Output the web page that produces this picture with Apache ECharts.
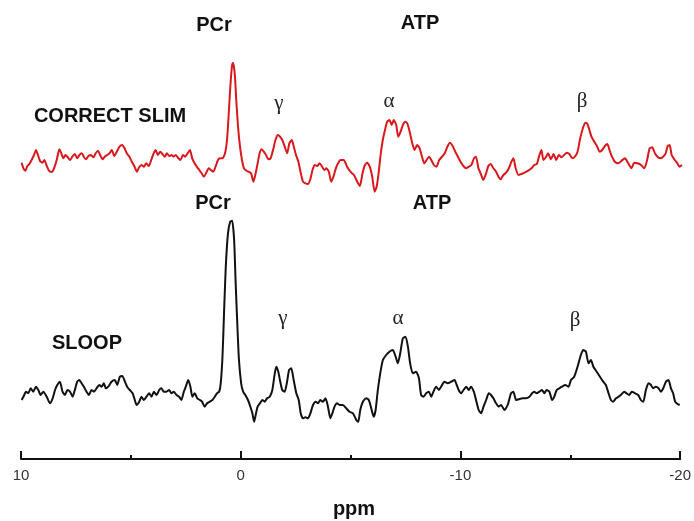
<!DOCTYPE html>
<html>
<head>
<meta charset="utf-8">
<title>31P spectra: CORRECT SLIM vs SLOOP</title>
<script src="https://cdn.jsdelivr.net/npm/echarts@6/dist/echarts.min.js"></script>
<style>
  html, body { margin: 0; padding: 0; background: #fff; }
  #chart { width: 694px; height: 521px; }
</style>
</head>
<body>
<div id="chart"></div>
<script>
// Chemical shift axis (ppm) and its labelled ticks
const ppmTicks = [10, 0, -10, -20];

// CORRECT SLIM spectrum: [ppm, signal]
const slimSpectrum = [
  [9.97,-5.7],[9.89,-11.3],[9.80,-13.7],[9.71,-9.0],[9.62,-7.0],[9.52,-3.0],[9.41,2.0],[9.32,7.0],
  [9.23,2.0],[9.14,-3.7],[9.03,-5.7],[8.94,-3.0],[8.83,-9.0],[8.73,-13.7],[8.61,-15.0],[8.50,-11.3],
  [8.38,-3.0],[8.26,7.7],[8.17,3.7],[8.08,-1.3],[7.98,2.0],[7.88,-0.3],[7.77,-3.0],[7.67,0.3],
  [7.56,3.0],[7.45,-1.3],[7.35,2.0],[7.24,3.7],[7.14,-0.3],[7.05,-2.3],[6.94,1.0],[6.83,2.0],
  [6.71,-0.3],[6.61,3.7],[6.50,6.3],[6.41,2.0],[6.30,-2.3],[6.20,0.3],[6.09,2.0],[5.98,3.7],
  [5.88,7.0],[5.77,1.0],[5.65,5.3],[5.53,10.3],[5.41,12.0],[5.30,8.7],[5.20,3.7],[5.08,0.3],
  [4.97,-4.7],[4.86,-9.0],[4.74,-14.7],[4.64,-10.3],[4.53,-8.0],[4.42,-9.7],[4.32,-6.3],[4.20,-9.0],
  [4.09,-3.0],[3.98,3.7],[3.89,7.0],[3.79,2.0],[3.68,5.3],[3.58,3.0],[3.47,0.3],[3.38,3.7],
  [3.27,1.0],[3.17,2.0],[3.08,0.3],[2.97,2.0],[2.86,-1.3],[2.76,-3.0],[2.65,2.0],[2.55,0.3],
  [2.44,3.7],[2.33,7.0],[2.23,-1.3],[2.12,-6.3],[2.02,-9.7],[1.91,-13.0],[1.80,-16.3],[1.70,-19.7],
  [1.59,-15.7],[1.48,-11.3],[1.38,-13.0],[1.27,-14.7],[1.17,-9.7],[1.06,-3.0],[0.95,-1.3],[0.85,-1.3],
  [0.74,3.7],[0.65,17.0],[0.58,40.3],[0.50,70.3],[0.42,92.0],[0.38,94.3],[0.30,83.7],[0.23,57.0],
  [0.15,30.3],[0.06,10.3],[-0.03,-3.0],[-0.12,-11.3],[-0.23,-13.7],[-0.33,-14.7],[-0.44,-16.3],[-0.55,-24.7],
  [-0.65,-16.3],[-0.74,-6.3],[-0.83,3.7],[-0.92,7.7],[-1.02,5.3],[-1.12,2.0],[-1.23,-2.3],[-1.33,-1.3],
  [-1.44,7.0],[-1.55,17.0],[-1.65,22.0],[-1.76,20.3],[-1.86,17.0],[-1.97,10.3],[-2.08,3.7],[-2.18,13.7],
  [-2.29,17.0],[-2.38,10.3],[-2.48,2.0],[-2.59,-4.7],[-2.70,-16.3],[-2.80,-24.7],[-2.91,-26.3],[-3.02,-27.0],
  [-3.12,-23.0],[-3.23,-13.0],[-3.33,-8.0],[-3.44,-9.0],[-3.55,-6.3],[-3.65,-9.0],[-3.76,-13.0],[-3.86,-11.3],
  [-3.97,-14.7],[-4.08,-24.7],[-4.18,-19.7],[-4.29,-11.3],[-4.39,-6.3],[-4.50,-3.0],[-4.65,-3.0],[-4.80,-9.7],
  [-4.95,-14.7],[-5.11,-18.0],[-5.26,-24.7],[-5.38,-29.0],[-5.50,-16.3],[-5.61,-8.0],[-5.71,-5.7],[-5.83,-9.7],
  [-5.94,-19.7],[-6.05,-34.7],[-6.14,-29.7],[-6.23,-16.3],[-6.32,2.0],[-6.42,17.0],[-6.52,27.0],[-6.62,35.3],
  [-6.73,37.0],[-6.82,32.0],[-6.92,37.0],[-7.03,32.0],[-7.12,20.3],[-7.23,25.3],[-7.33,32.0],[-7.44,35.3],
  [-7.53,33.7],[-7.64,25.3],[-7.74,15.3],[-7.86,7.0],[-7.98,12.0],[-8.09,8.7],[-8.20,0.3],[-8.30,-6.3],
  [-8.41,-3.0],[-8.52,0.3],[-8.62,-3.0],[-8.74,-8.0],[-8.86,-9.7],[-8.98,-3.0],[-9.11,0.3],[-9.23,3.7],
  [-9.35,10.3],[-9.47,14.3],[-9.59,11.0],[-9.71,5.3],[-9.83,0.3],[-9.95,-4.7],[-10.08,-9.0],[-10.20,-11.3],
  [-10.32,-9.7],[-10.44,-8.0],[-10.56,-1.3],[-10.65,0.3],[-10.76,-11.3],[-10.86,-16.3],[-10.98,-23.0],[-11.11,-16.3],
  [-11.21,-9.0],[-11.32,-7.0],[-11.44,-11.3],[-11.56,-14.7],[-11.67,-19.7],[-11.77,-22.3],[-11.89,-18.0],[-12.02,-15.7],
  [-12.14,-11.3],[-12.26,-4.7],[-12.35,-1.3],[-12.45,-11.3],[-12.58,-18.0],[-12.71,-17.0],[-12.86,-15.7],[-13.02,-13.7],
  [-13.17,-11.3],[-13.29,-8.0],[-13.41,-7.0],[-13.53,2.0],[-13.62,7.0],[-13.71,-3.0],[-13.82,-0.3],[-13.92,3.7],
  [-14.05,-2.3],[-14.17,3.0],[-14.29,-3.0],[-14.41,2.0],[-14.53,-0.3],[-14.65,2.0],[-14.77,4.3],[-14.89,3.0],
  [-15.02,-1.3],[-15.14,0.3],[-15.26,5.3],[-15.38,18.7],[-15.50,28.7],[-15.61,34.3],[-15.71,33.0],[-15.80,27.0],
  [-15.89,20.3],[-16.02,15.3],[-16.14,11.0],[-16.26,5.3],[-16.38,7.0],[-16.50,11.0],[-16.61,13.0],[-16.71,7.0],
  [-16.82,0.3],[-16.95,-4.7],[-17.11,-6.3],[-17.26,-3.7],[-17.41,-1.3],[-17.56,-6.3],[-17.71,-11.3],[-17.83,-5.7],
  [-17.98,-6.3],[-18.14,-8.0],[-18.29,-11.3],[-18.41,-3.7],[-18.53,8.7],[-18.65,9.7],[-18.77,3.7],[-18.89,0.3],
  [-19.02,-1.3],[-19.14,0.3],[-19.26,3.7],[-19.35,11.0],[-19.44,12.0],[-19.53,2.0],[-19.65,-2.3],[-19.77,-5.7],
  [-19.89,-9.7],[-20.00,-8.0]
];

// SLOOP spectrum: [ppm, signal]
const sloopSpectrum = [
  [9.97,-5.0],[9.89,-1.7],[9.77,3.3],[9.67,1.7],[9.56,6.7],[9.44,3.3],[9.32,8.3],[9.21,5.0],
  [9.11,0.0],[8.98,3.3],[8.83,-1.7],[8.68,-8.3],[8.56,-3.3],[8.45,5.0],[8.35,10.0],[8.23,13.3],
  [8.11,3.3],[8.00,0.0],[7.89,5.0],[7.77,3.3],[7.65,-1.7],[7.55,5.0],[7.44,13.3],[7.35,15.0],
  [7.24,11.7],[7.14,8.3],[7.02,3.3],[6.91,0.0],[6.79,5.0],[6.68,3.3],[6.56,6.7],[6.44,10.0],
  [6.33,8.3],[6.23,11.7],[6.14,6.7],[6.03,8.3],[5.88,13.3],[5.73,15.0],[5.62,10.0],[5.50,18.3],
  [5.39,19.0],[5.27,13.3],[5.17,8.3],[5.05,5.0],[4.92,1.7],[4.82,-5.0],[4.74,-10.0],[4.62,-6.7],
  [4.52,-1.7],[4.41,-5.0],[4.29,-1.7],[4.17,1.7],[4.06,-1.7],[3.95,3.3],[3.83,0.0],[3.71,5.0],
  [3.61,6.7],[3.50,3.3],[3.38,3.3],[3.26,5.0],[3.15,1.7],[3.05,3.3],[2.92,0.0],[2.80,-1.7],
  [2.70,-5.0],[2.59,3.3],[2.50,8.3],[2.39,15.0],[2.29,8.3],[2.20,-1.7],[2.09,1.7],[1.98,-3.3],
  [1.86,-5.0],[1.76,-6.7],[1.64,-11.7],[1.53,-8.3],[1.41,-6.7],[1.29,-5.0],[1.18,-1.7],[1.08,1.7],
  [0.98,3.3],[0.91,11.7],[0.83,38.3],[0.76,81.7],[0.68,128.3],[0.58,161.7],[0.48,173.3],[0.39,174.3],
  [0.30,155.0],[0.23,111.7],[0.15,68.3],[0.08,35.0],[-0.02,11.7],[-0.11,3.3],[-0.21,0.0],[-0.33,-5.0],
  [-0.44,-11.7],[-0.53,-18.3],[-0.61,-26.7],[-0.68,-20.0],[-0.77,-11.7],[-0.88,-8.3],[-0.98,-5.0],[-1.09,-6.7],
  [-1.20,-3.3],[-1.32,-1.7],[-1.44,5.0],[-1.55,21.7],[-1.62,28.3],[-1.71,23.3],[-1.80,13.3],[-1.89,5.0],
  [-2.00,3.3],[-2.11,13.3],[-2.20,25.0],[-2.30,26.7],[-2.41,15.0],[-2.53,1.7],[-2.64,-5.0],[-2.73,-18.3],
  [-2.83,-23.3],[-2.95,-22.3],[-3.06,-23.3],[-3.17,-18.3],[-3.29,-10.0],[-3.41,-6.7],[-3.52,-8.3],[-3.62,-5.0],
  [-3.74,-6.7],[-3.86,-3.3],[-3.97,-11.7],[-4.08,-23.3],[-4.17,-18.3],[-4.27,-11.7],[-4.38,-8.3],[-4.50,-10.0],
  [-4.65,-10.0],[-4.80,-13.3],[-4.95,-16.7],[-5.11,-18.3],[-5.26,-25.0],[-5.35,-26.7],[-5.44,-15.0],[-5.56,-6.7],
  [-5.71,-3.3],[-5.83,-5.0],[-5.94,-13.3],[-6.05,-21.7],[-6.14,-15.0],[-6.24,5.0],[-6.35,21.7],[-6.47,35.0],
  [-6.62,40.0],[-6.77,43.3],[-6.92,45.0],[-7.05,38.3],[-7.15,31.7],[-7.26,41.7],[-7.38,56.7],[-7.50,58.3],
  [-7.61,48.3],[-7.71,31.7],[-7.83,21.7],[-7.98,23.3],[-8.11,16.7],[-8.21,0.0],[-8.32,-1.7],[-8.44,1.7],
  [-8.56,3.3],[-8.67,-1.7],[-8.77,3.3],[-8.89,8.3],[-9.02,5.0],[-9.12,8.3],[-9.27,13.3],[-9.42,11.7],
  [-9.58,13.3],[-9.73,15.0],[-9.83,10.0],[-9.92,5.0],[-10.03,1.7],[-10.14,5.0],[-10.26,8.3],[-10.38,5.0],
  [-10.48,8.3],[-10.61,3.3],[-10.71,-5.0],[-10.83,-15.0],[-10.94,-18.3],[-11.05,-11.7],[-11.17,-5.0],[-11.29,1.7],
  [-11.39,0.0],[-11.50,-3.3],[-11.62,-8.3],[-11.74,-11.7],[-11.85,-10.0],[-12.00,-15.0],[-12.15,-10.0],[-12.30,1.7],
  [-12.41,3.3],[-12.53,-5.0],[-12.65,-4.3],[-12.83,-3.3],[-12.98,-3.3],[-13.14,-1.7],[-13.26,1.7],[-13.36,3.3],
  [-13.47,1.7],[-13.59,3.3],[-13.71,5.0],[-13.82,1.7],[-13.92,5.0],[-14.05,3.3],[-14.17,-5.0],[-14.27,-1.7],
  [-14.38,5.0],[-14.50,6.7],[-14.62,8.3],[-14.77,10.0],[-14.92,8.3],[-15.03,15.0],[-15.18,18.3],[-15.33,28.3],
  [-15.48,40.0],[-15.59,45.0],[-15.71,43.3],[-15.83,31.7],[-15.94,35.0],[-16.05,28.3],[-16.20,23.3],[-16.35,18.3],
  [-16.50,13.3],[-16.62,10.0],[-16.74,1.7],[-16.85,-5.0],[-16.95,-6.7],[-17.08,-3.3],[-17.20,-1.7],[-17.30,0.0],
  [-17.45,3.3],[-17.56,1.7],[-17.68,0.0],[-17.80,3.3],[-17.95,1.7],[-18.09,0.0],[-18.21,-5.0],[-18.32,-6.7],
  [-18.44,5.0],[-18.56,11.7],[-18.67,10.0],[-18.77,6.7],[-18.89,8.3],[-19.02,6.7],[-19.12,3.3],[-19.23,6.7],
  [-19.35,13.3],[-19.47,15.0],[-19.58,6.7],[-19.68,1.7],[-19.77,-6.7],[-19.88,-9.0],[-19.98,-10.0]
];

// Peak annotations
const methodNames = ['CORRECT SLIM', 'SLOOP'];
const groupNames = ['PCr', 'ATP'];
const atpPeaks = ['γ', 'α', 'β'];
const axisTitle = 'ppm';

const chart = echarts.init(document.getElementById('chart'), null, { renderer: 'canvas' });

const sansBold = { fontFamily: 'Liberation Sans, Arial, sans-serif', fontWeight: 'bold', fontSize: 20, fill: '#111' };
const greek = { fontFamily: 'Liberation Serif, Times New Roman, serif', fontSize: 21, fill: '#222' };

function label(text, x, y, style) {
  return {
    type: 'text', x: x, y: y,
    style: Object.assign({ text: text, align: 'center', verticalAlign: 'middle' }, style)
  };
}

const xCommon = {
  type: 'value', min: -20, max: 10, interval: 10, inverse: true
};

chart.setOption({
  backgroundColor: '#ffffff',
  animation: false,
  grid: [
    { left: 21, right: 12, top: 57, height: 150 },
    { left: 21, right: 12, top: 215, height: 244 }
  ],
  xAxis: [
    Object.assign({ gridIndex: 0, show: false }, xCommon),
    Object.assign({
      gridIndex: 1,
      position: 'bottom',
      axisLine: { show: true, onZero: false, lineStyle: { color: '#111', width: 2 } },
      axisTick: { show: true, inside: true, length: 8, lineStyle: { color: '#111', width: 2 } },
      minorTick: { show: true, splitNumber: 2, length: 4, lineStyle: { color: '#111', width: 2 } },
      splitLine: { show: false },
      minorSplitLine: { show: false },
      axisLabel: {
        margin: 9, color: '#333', fontSize: 15,
        fontFamily: 'Liberation Sans, Arial, sans-serif',
        showMinLabel: true, showMaxLabel: true,
        formatter: v => (ppmTicks.indexOf(v) >= 0 ? String(v) : '')
      }
    }, xCommon)
  ],
  yAxis: [
    { gridIndex: 0, type: 'value', min: -50, max: 100, show: false },
    { gridIndex: 1, type: 'value', min: -64, max: 180, show: false }
  ],
  series: [
    {
      name: methodNames[0], type: 'line', xAxisIndex: 0, yAxisIndex: 0,
      data: slimSpectrum, showSymbol: false, smooth: 0.2,
      lineStyle: { color: '#d8181c', width: 2 }
    },
    {
      name: methodNames[1], type: 'line', xAxisIndex: 1, yAxisIndex: 1,
      data: sloopSpectrum, showSymbol: false, smooth: 0.2,
      lineStyle: { color: '#111111', width: 2 }
    }
  ],
  graphic: [
    label(groupNames[0], 214, 25, sansBold),
    label(groupNames[1], 420, 23, sansBold),
    label(methodNames[0], 110, 116, sansBold),
    label(atpPeaks[0], 279, 103, greek),
    label(atpPeaks[1], 389, 101, greek),
    label(atpPeaks[2], 582, 101, greek),
    label(groupNames[0], 213, 203, sansBold),
    label(groupNames[1], 432, 203, sansBold),
    label(methodNames[1], 87, 343, sansBold),
    label(atpPeaks[0], 283, 318, greek),
    label(atpPeaks[1], 398, 318, greek),
    label(atpPeaks[2], 575, 320, greek),
    label(axisTitle, 354, 509, sansBold)
  ]
});
</script>
</body>
</html>
